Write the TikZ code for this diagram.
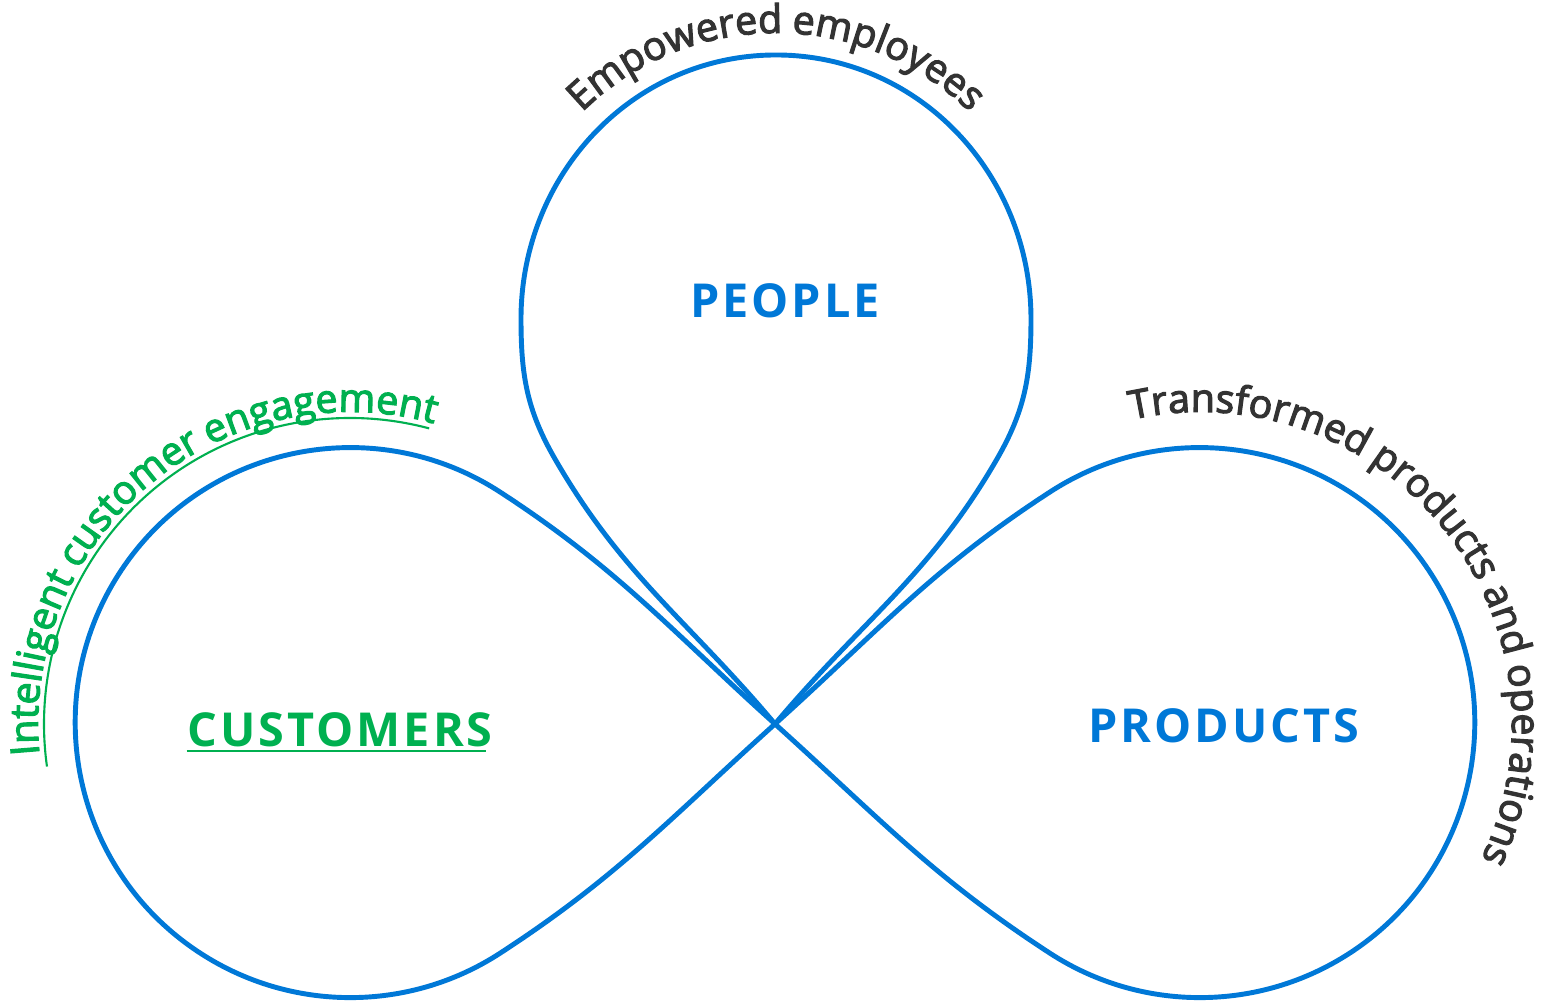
\documentclass[tikz,border=0pt]{standalone}
\usepackage{fontspec}
\setmainfont{Open Sans}
\newfontfamily\arcfont{Open Sans}[FakeBold=3,LetterSpace=-2.5]
\newfontfamily\pillarfont{Open Sans}[LetterSpace=6.5]
\usetikzlibrary{decorations.text}
\definecolor{msblue}{HTML}{0078D7}
\definecolor{msgreen}{HTML}{00B050}
\definecolor{msgray}{HTML}{333333}
\begin{document}
\begin{tikzpicture}[x=0.01cm,y=0.01cm,
   loopline/.style={msblue,line width=1.4pt},
   pillar/.style={anchor=base,inner sep=0pt,font=\fontsize{13.3}{16}\pillarfont\bfseries}]
   \useasboundingbox (0,0) rectangle (1544,1004);
   \coordinate (x) at (775,280);
   % customers and products: one figure of eight through x
   \draw [loopline] (x) to[out=138,in=-33] (500,512)
      arc[start angle=57,end angle=303,radius=275] to[out=33,in=-138] (x)
      to[out=42,in=213] (1050,512)
      arc[start angle=123,end angle=-123,radius=275] to[out=147,in=-42] (x);
   % people: the drop on top
   \draw [loopline] (x) to[out=130,in=-60] (555,545) to[out=120,in=-90] (521,685)
      to[out=90,in=180] (776,949) to[out=0,in=90] (1031,685)
      to[out=-90,in=60] (997,545) to[out=-120,in=50] (x);
   \node [pillar,msblue] (people) at (785,686) {PEOPLE};
   \node [pillar,msgreen] (customers) at (340,257) {CUSTOMERS};
   \node [pillar,msblue] (products) at (1224,261) {PRODUCTS};
   \draw [msgreen,line width=0.7pt] ([yshift=-1.2pt]customers.base west) -- ([yshift=-1.2pt,xshift=-2pt]customers.base east);
   % texts round the loops
   \path [decorate,decoration={text along path,text align=center,text color=msgray,
      text={|\fontsize{11.2}{13}\arcfont|Empowered employees}}]
      (776,694) ++(180:277) arc[start angle=180,end angle=0,radius=277];
   \path [decorate,decoration={text along path,text align=center,text color=msgreen,
      text={|\fontsize{11.2}{13}\arcfont|Intelligent customer engagement}}]
      (350,280) ++(250:312) arc[start angle=250,end angle=10,radius=312];
   \draw [msgreen,line width=0.6pt] (350,280) ++(188:306) arc[start angle=188,end angle=75,radius=306];
   \path [decorate,decoration={text along path,text align=center,text color=msgray,
      text={|\fontsize{11.2}{13}\arcfont|Transformed products and operations}}]
      (1200,280) ++(158.5:312) arc[start angle=158.5,end angle=-81.5,radius=312];
\end{tikzpicture}
\end{document}
